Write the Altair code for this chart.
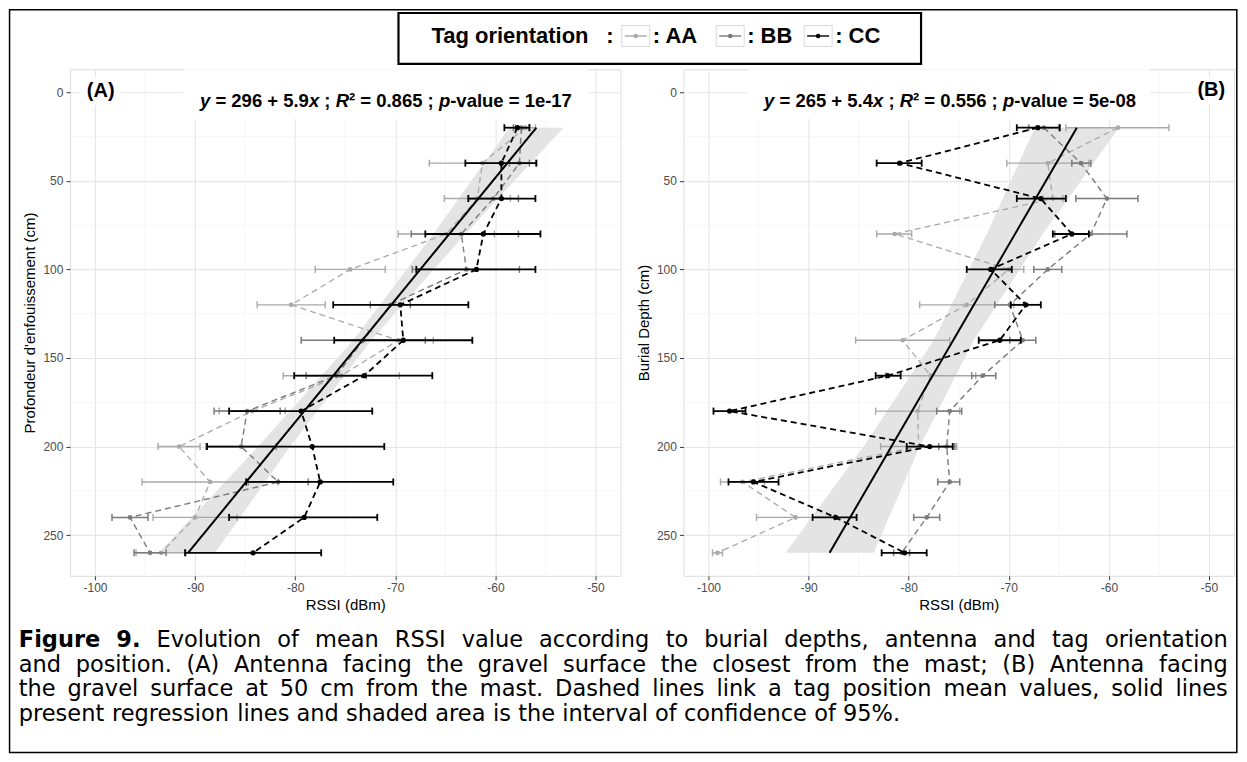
import altair as alt
import pandas as pd

FONT = "Liberation Sans"
CAP_FONT = "DejaVu Sans"

# ---------------- data ----------------
DEPTHS = [20, 40, 60, 80, 100, 120, 140, 160, 180, 200, 220, 240, 260]
ORIENTATIONS = ["AA", "BB", "CC"]

# Panel A
A_AA_MEAN = [-57.0, -61.3, -61.8, -64.9, -74.5, -80.4, -69.7, -75.4, -84.3, -91.6, -88.5, -90.0, -93.4]
A_AA_LOW = [-58.0, -66.6, -65.1, -69.7, -78.0, -83.8, -73.2, -81.2, -87.6, -93.7, -95.3, -94.2, -95.9]
A_AA_HIGH = [-56.0, -56.0, -58.5, -60.1, -71.0, -77.0, -66.2, -69.6, -81.0, -89.5, -81.7, -85.8, -90.9]
A_BB_MEAN = [-57.4, -57.6, -60.2, -63.4, -62.9, -70.5, -73.2, -75.9, -84.8, -85.4, -81.7, -96.5, -94.5]
A_BB_LOW = [-58.2, -58.6, -62.7, -68.4, -68.3, -72.5, -79.4, -78.9, -88.1, -88.9, -84.7, -98.3, -96.1]
A_BB_HIGH = [-56.6, -56.6, -57.7, -57.7, -57.6, -68.5, -67.0, -72.9, -81.5, -81.9, -78.7, -94.7, -92.9]
A_CC_MEAN = [-57.8, -59.4, -59.4, -61.2, -61.9, -69.5, -69.2, -73.1, -79.4, -78.3, -77.5, -79.1, -84.2]
A_CC_LOW = [-59.1, -63.0, -62.7, -67.0, -67.9, -76.2, -76.1, -80.1, -86.6, -88.8, -84.9, -86.6, -91.0]
A_CC_HIGH = [-56.6, -55.9, -56.0, -55.5, -56.0, -62.7, -62.3, -66.3, -72.3, -71.1, -70.2, -71.8, -77.4]

# Panel B
B_AA_MEAN = [-59.1, -66.1, -65.6, -81.4, -70.0, -74.2, -80.6, -77.8, -79.1, -79.0, -96.6, -91.3, -99.1]
B_AA_LOW = [-64.3, -70.2, -66.6, -83.2, -71.5, -78.9, -85.3, -82.3, -83.3, -82.8, -98.8, -95.2, -99.6]
B_AA_HIGH = [-54.0, -62.0, -64.6, -79.7, -68.5, -69.5, -75.9, -73.3, -74.9, -75.2, -94.4, -87.4, -98.6]
B_BB_MEAN = [-66.5, -62.8, -60.2, -61.8, -66.1, -69.9, -68.6, -72.6, -75.9, -76.2, -75.9, -78.2, -80.7]
B_BB_LOW = [-68.0, -63.7, -63.3, -65.4, -67.5, -71.4, -69.9, -73.7, -77.2, -77.0, -77.1, -79.5, -81.5]
B_BB_HIGH = [-65.0, -61.8, -57.1, -58.2, -64.7, -68.4, -67.3, -71.3, -74.7, -75.4, -74.9, -76.9, -79.9]
B_CC_MEAN = [-67.1, -80.9, -66.8, -63.7, -71.8, -68.3, -70.9, -82.1, -97.9, -77.9, -95.5, -87.3, -80.4]
B_CC_LOW = [-69.2, -83.2, -69.2, -65.6, -74.2, -69.8, -73.0, -83.3, -99.5, -80.2, -98.0, -89.6, -82.7]
B_CC_HIGH = [-64.9, -78.7, -64.3, -62.0, -69.7, -66.8, -68.8, -80.8, -96.3, -75.6, -93.0, -85.2, -78.2]

# regression lines and confidence bands
REG_DEPTH = [20, 260]
REG_A_RSSI = [-55.9, -90.7]
REG_B_RSSI = [-63.2, -87.9]
RIB_DEPTH = [20, 80, 140, 200, 260]
RIB_A_LOW = [-58.6, -66.2, -74.2, -83.7, -93.6]
RIB_A_HIGH = [-53.2, -63.0, -72.4, -80.5, -88.0]
RIB_B_LOW = [-67.4, -72.2, -77.5, -84.5, -92.3]
RIB_B_HIGH = [-59.0, -66.6, -73.5, -78.9, -83.5]

X_TICKS = [-100, -90, -80, -70, -60, -50]
X_MINOR = [-95, -85, -75, -65, -55]
Y_TICKS = [0, 50, 100, 150, 200, 250]
Y_MINOR = [25, 75, 125, 175, 225]

EQ_A = [("y", True), (" = 296 + 5.9", False), ("x", True), (" ; ", False), ("R", True),
        ("\u00b2 = 0.865 ; ", False), ("p", True), ("-value = 1e-17", False)]
EQ_B = [("y", True), (" = 265 + 5.4", False), ("x", True), (" ; ", False), ("R", True),
        ("\u00b2 = 0.556 ; ", False), ("p", True), ("-value = 5e-08", False)]

CAPTION = [
    [("Figure 9.", True), ("Evolution of mean RSSI value according to burial depths, antenna and tag orientation", False)],
    [("and position. (A) Antenna facing the gravel surface the closest from the mast; (B) Antenna facing", False)],
    [("the gravel surface at 50 cm from the mast. Dashed lines link a tag position mean values, solid lines", False)],
    [("present regression lines and shaded area is the interval of confidence of 95%.", False)],
]

# ---------------- text metrics ----------------
# Arial / Liberation Sans Bold (used for the equations)
BOLD_W = {" ": 278, "(": 333, ")": 333, "+": 584, ",": 278, "-": 333, ".": 278, ":": 333, ";": 333,
          "=": 584, "%": 889, "\u00b2": 333,
          "A": 722, "B": 722, "C": 722, "F": 611, "R": 722, "T": 611,
          "a": 556, "b": 611, "c": 556, "d": 611, "e": 556, "f": 333, "g": 611, "h": 611, "i": 278,
          "j": 278, "k": 556, "l": 278, "m": 889, "n": 611, "o": 611, "p": 611, "q": 611, "r": 389,
          "s": 556, "t": 333, "u": 611, "v": 556, "w": 778, "x": 556, "y": 556, "z": 500}
# DejaVu Sans (caption)
DV_W = {" ": 318, "%": 950, "(": 390, ")": 390, ",": 318, "-": 361, ".": 318, ":": 337, ";": 337,
        "A": 684, "B": 686, "C": 698, "D": 770, "E": 632, "F": 575, "G": 775, "H": 752, "I": 295,
        "M": 863, "P": 603, "R": 695, "S": 635, "T": 611,
        "a": 613, "b": 635, "c": 550, "d": 635, "e": 615, "f": 352, "g": 635, "h": 634, "i": 278,
        "j": 278, "k": 579, "l": 278, "m": 974, "n": 634, "o": 612, "p": 635, "q": 635, "r": 411,
        "s": 521, "t": 392, "u": 634, "v": 592, "w": 818, "x": 592, "y": 592, "z": 525}
DVB_W = {" ": 348, ".": 380, "9": 696, "F": 683, "i": 343, "g": 716, "u": 712, "r": 493, "e": 678}


def tw_bold(s, size):
    return sum(BOLD_W.get(c, 556) for c in s) * size / 1000.0


def tw_cap(s, size, bold=False):
    if bold:
        return sum(DVB_W.get(c, 700) for c in s) * size / 1000.0
    return sum(DV_W.get(c, 636) for c in s) * size / 1000.0


# ---------------- layout ----------------
W, H = 551, 507
SPACING = 63
AX0, AY0 = 69.2, 68.3             # page position of panel A plot area
BX0 = AX0 + W + SPACING           # page x of panel B plot area


def ra(px, py):
    return px - AX0, py - AY0


XS = alt.Scale(domain=[-102.5, -47.5], nice=False, zero=False)
YS = alt.Scale(domain=[-13, 273], nice=False, zero=False, reverse=True)

COMMON_AXIS = dict(grid=True, gridColor="#e6e6e6", gridWidth=1.1, domain=False, ticks=True,
                   tickColor="#333333", tickSize=4, tickWidth=1, labelColor="#4d4d4d",
                   labelFontSize=12, labelFont=FONT, titleFont=FONT, titleFontSize=15,
                   titleFontWeight="normal", titleColor="#000000", labelExpr="'' + datum.value")

XAXIS = alt.Axis(values=X_TICKS, title="RSSI (dBm)", labelPadding=3, titlePadding=4, **COMMON_AXIS)

STYLE = {
    "AA": dict(color="#a9a9a9", err=1.4, line=1.3, pt=22),
    "BB": dict(color="#7b7b7b", err=1.5, line=1.4, pt=22),
    "CC": dict(color="#000000", err=1.8, line=1.8, pt=28),
}

ONE = pd.DataFrame({"k": [0]})


def text_mark(x, y, txt, size, weight="normal", align="center", baseline="middle",
              style="normal", color="#000000", font=FONT):
    return alt.Chart(ONE).mark_text(text=txt, fontSize=size, fontWeight=weight, align=align,
                                    baseline=baseline, font=font, color=color,
                                    fontStyle=style).encode(x=alt.value(x), y=alt.value(y))


def rect_mark(x1, y1, x2, y2, fill="white", stroke=None, sw=0.0, fill_opacity=1.0):
    kw = dict(fill=fill, fillOpacity=fill_opacity)
    if stroke is not None:
        kw.update(stroke=stroke, strokeWidth=sw)
    else:
        kw.update(strokeWidth=0)
    return alt.Chart(ONE).mark_rect(**kw).encode(
        x=alt.value(x1), x2=alt.value(x2), y=alt.value(y1), y2=alt.value(y2))


def seg_mark(x1, y1, x2, y2, color, sw):
    return alt.Chart(ONE).mark_rule(color=color, strokeWidth=sw).encode(
        x=alt.value(x1), x2=alt.value(x2), y=alt.value(y1), y2=alt.value(y2))


def dot_mark(x, y, color, size):
    return alt.Chart(ONE).mark_circle(color=color, size=size, opacity=1).encode(
        x=alt.value(x), y=alt.value(y))


def equation_layers(cx, cy, segments, size):
    total = sum(tw_bold(t, size) for t, _ in segments)
    x = cx - total / 2
    out = []
    for t, ital in segments:
        stripped = t.lstrip(" ")
        lead = tw_bold(t[:len(t) - len(stripped)], size)
        core = stripped.rstrip(" ")
        if core:
            out.append(text_mark(x + lead, cy, core, size, weight="bold", align="left",
                                 style="italic" if ital else "normal"))
        x += tw_bold(t, size)
    return out


def build_panel(series, reg_rssi, rib_low, rib_high, ytitle, label_pos, label, eq_pos,
                eq_segments, boxes, extra):
    yaxis = alt.Axis(values=Y_TICKS, title=ytitle, labelPadding=3, titlePadding=5, **COMMON_AXIS)

    def X(f):
        return alt.X(f"{f}:Q", scale=XS, axis=XAXIS)

    def Y(f):
        return alt.Y(f"{f}:Q", scale=YS, axis=yaxis)

    layers = [
        alt.Chart(pd.DataFrame({"v": X_MINOR})).mark_rule(color="#f2f2f2", strokeWidth=0.7).encode(x=X("v")),
        alt.Chart(pd.DataFrame({"v": Y_MINOR})).mark_rule(color="#f2f2f2", strokeWidth=0.7).encode(y=Y("v")),
    ]
    for b in boxes:
        layers.append(rect_mark(*b))

    rib = pd.DataFrame({"depth": RIB_DEPTH, "lo": rib_low, "hi": rib_high})
    layers.append(alt.Chart(rib).mark_area(orient="horizontal", color="#e4e4e4", opacity=1).encode(
        y=Y("depth"), x=X("lo"), x2="hi:Q"))

    for orient, (mean, low, high) in zip(ORIENTATIONS, series):
        st = STYLE[orient]
        df = pd.DataFrame({"depth": DEPTHS, "mean": mean, "low": low, "high": high})
        base = alt.Chart(df)
        layers.append(base.mark_rule(color=st["color"], strokeWidth=st["err"]).encode(
            x=X("low"), x2="high:Q", y=Y("depth")))
        layers.append(base.mark_rule(color=st["color"], strokeWidth=st["err"], yOffset=-3.5,
                                     y2Offset=3.5).encode(x=X("low"), y=Y("depth"), y2="depth:Q"))
        layers.append(base.mark_rule(color=st["color"], strokeWidth=st["err"], yOffset=-3.5,
                                     y2Offset=3.5).encode(x=X("high"), y=Y("depth"), y2="depth:Q"))
        layers.append(base.mark_line(color=st["color"], strokeWidth=st["line"],
                                     strokeDash=[6, 4]).encode(x=X("mean"), y=Y("depth"),
                                                                order=alt.Order("depth:Q")))
        layers.append(base.mark_circle(color=st["color"], size=st["pt"], opacity=1).encode(
            x=X("mean"), y=Y("depth")))

    reg = pd.DataFrame({"depth": REG_DEPTH, "rssi": reg_rssi})
    layers.append(alt.Chart(reg).mark_line(color="#000000", strokeWidth=2.0).encode(
        x=X("rssi"), y=Y("depth"), order=alt.Order("depth:Q")))

    layers.append(text_mark(label_pos[0], label_pos[1], label, 20, weight="bold"))
    layers.extend(equation_layers(eq_pos[0], eq_pos[1], eq_segments, 18.5))
    layers.extend(extra)
    return alt.layer(*layers).properties(width=W, height=H)


# ---------------- decorations for panel A (legend, caption, frame) ----------------
extra = []
fx, fy = 8.75 - AX0, 8.75 - AY0
extra.append(rect_mark(fx, fy, 1237 - AX0, 752 - AY0, fill="white", stroke="#000000", sw=1.5,
                       fill_opacity=0))

lx1, ly1 = ra(398, 12)
lx2, ly2 = ra(921, 63)
extra.append(rect_mark(lx1, ly1, lx2, ly2, fill="white", stroke="#000000", sw=2.2, fill_opacity=0))
_, leg_y = ra(0, 35)
extra.append(text_mark(431 - AX0, leg_y, "Tag orientation", 22, weight="bold", align="left"))
extra.append(text_mark(609.5 - AX0, leg_y, ":", 22, weight="bold"))
for orient, kx in zip(ORIENTATIONS, [621.5, 716, 804]):
    st = STYLE[orient]
    k1 = kx - AX0
    extra.append(rect_mark(k1, leg_y - 10.5, k1 + 28, leg_y + 10.5, fill="white", stroke="#d9d9d9",
                           sw=1.0))
    extra.append(seg_mark(k1 + 3, leg_y, k1 + 25, leg_y, st["color"], 1.4))
    extra.append(dot_mark(k1 + 14, leg_y, st["color"], 20))
    extra.append(text_mark(k1 + 31, leg_y, ": " + orient, 22, weight="bold", align="left"))

CAP_SIZE = 22.5
CAP_LEFT, CAP_RIGHT = 18, 1228
cap_y0 = 640
for i, line in enumerate(CAPTION):
    words = []
    for chunk, bold in line:
        for w in chunk.split(" "):
            words.append((w, bold))
    widths = [tw_cap(w, CAP_SIZE, b) for w, b in words]
    justify = i < len(CAPTION) - 1
    if justify:
        gap = (CAP_RIGHT - CAP_LEFT - sum(widths)) / (len(words) - 1)
    else:
        gap = tw_cap(" ", CAP_SIZE)
    x = CAP_LEFT
    y = cap_y0 + i * 24.5 - AY0
    for j, ((w, b), wd) in enumerate(zip(words, widths)):
        last = justify and j == len(words) - 1
        extra.append(text_mark((CAP_RIGHT if last else x) - AX0, y, w, CAP_SIZE,
                               weight="bold" if b else "normal",
                               align="right" if last else "left", font=CAP_FONT))
        x += wd + gap

# ---------------- panels ----------------
panel_a = build_panel(
    [(A_AA_MEAN, A_AA_LOW, A_AA_HIGH), (A_BB_MEAN, A_BB_LOW, A_BB_HIGH), (A_CC_MEAN, A_CC_LOW, A_CC_HIGH)],
    REG_A_RSSI, RIB_A_LOW, RIB_A_HIGH, "Profondeur d'enfouissement (cm)",
    ra(100, 90), "(A)", ra(385.5, 100), EQ_A,
    [(*ra(80, 76), *ra(120, 104)), (*ra(183, 68.3), *ra(588, 118))],
    extra,
)


def rb(px, py):
    return px - BX0, py - AY0


panel_b = build_panel(
    [(B_AA_MEAN, B_AA_LOW, B_AA_HIGH), (B_BB_MEAN, B_BB_LOW, B_BB_HIGH), (B_CC_MEAN, B_CC_LOW, B_CC_HIGH)],
    REG_B_RSSI, RIB_B_LOW, RIB_B_HIGH, "Burial Depth (cm)",
    rb(1211.5, 89.5), "(B)", rb(950, 100), EQ_B,
    [(*rb(1191, 76), *rb(BX0 + W, 103)), (*rb(748, 68.3), *rb(1150, 118))],
    [],
)

chart = alt.hconcat(panel_a, panel_b, spacing=SPACING, bounds="flush").properties(
    padding=0, background="white"
).configure_view(stroke="#a8a8a8", strokeWidth=1.3).configure(font=FONT)

chart.save("out.html", embed_options={"renderer": "svg", "actions": False})
